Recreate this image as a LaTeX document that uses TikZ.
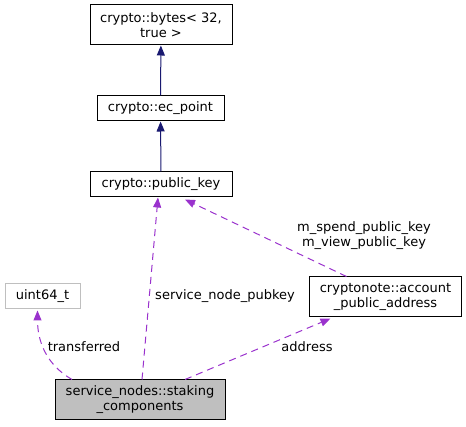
\documentclass[tikz,border=0pt]{standalone}
\usepackage{fontspec}
\setmainfont{DejaVu Sans}
\definecolor{edgenavy}{RGB}{25,25,112}
\definecolor{edgepurple}{RGB}{154,50,205}
\definecolor{boxgray}{RGB}{191,191,191}
\usetikzlibrary{arrows.meta}
\tikzset{
  classbox/.style={draw=black, line width=1pt, fill=white, align=center, font=\fontsize{13}{15}\selectfont, inner sep=0pt},
  inherit/.style={draw=edgenavy, line width=1pt, -{Triangle[length=10pt,width=8pt]}},
  member/.style={draw=edgepurple, line width=1pt, dash pattern=on 7pt off 5pt, -{Triangle[length=10pt,width=8pt]}},
  lbl/.style={align=center, font=\fontsize{13}{15}\selectfont}
}

\begin{document}
\begin{tikzpicture}[x=1pt,y=-1pt]
  \useasboundingbox (0,0) rectangle (466,427);

  \node [classbox, minimum width=142pt, minimum height=40pt] (bytes) at (161,25) {crypto::bytes< 32,\\true >};
  \node [classbox, minimum width=127pt, minimum height=25pt] (ecpoint) at (160.5,108.5) {crypto::ec\_point};
  \node [classbox, minimum width=142pt, minimum height=25pt] (pubkey) at (161,184.5) {crypto::public\_key};
  \node [classbox, draw=boxgray, minimum width=75pt, minimum height=25pt] (uint) at (42.5,296.5) {uint64\_t};
  \node [classbox, minimum width=152pt, minimum height=40pt] (account) at (385.5,297) {cryptonote::account\\\_public\_address};
  \node [classbox, fill=boxgray, minimum width=170pt, minimum height=40pt] (staking) at (140,400) {service\_nodes::staking\\\_components};

  \draw [inherit] (ecpoint) -- (bytes);
  \draw [inherit] (pubkey) -- (ecpoint);

  \draw [member] ([xshift=2pt]staking.north) -- ([xshift=-3pt]pubkey.south);
  \draw [member] ([xshift=-39pt]account.north) -- ([xshift=24pt,yshift=-2pt]pubkey.south);
  \draw [member] ([xshift=-68pt]staking.north) to[out=150,in=-90] ([xshift=-5pt,yshift=-1pt]uint.south);
  \draw [member] ([xshift=45pt]staking.north) -- ([xshift=-55pt,yshift=-1pt]account.south);

  \node [lbl] (lpubkey) at (225,296) {service\_node\_pubkey};
  \node [lbl] (lspend) at (364,236) {m\_spend\_public\_key\\m\_view\_public\_key};
  \node [lbl] (ltrans) at (84,347) {transferred};
  \node [lbl] (laddr) at (307,347) {address};
\end{tikzpicture}
\end{document}
